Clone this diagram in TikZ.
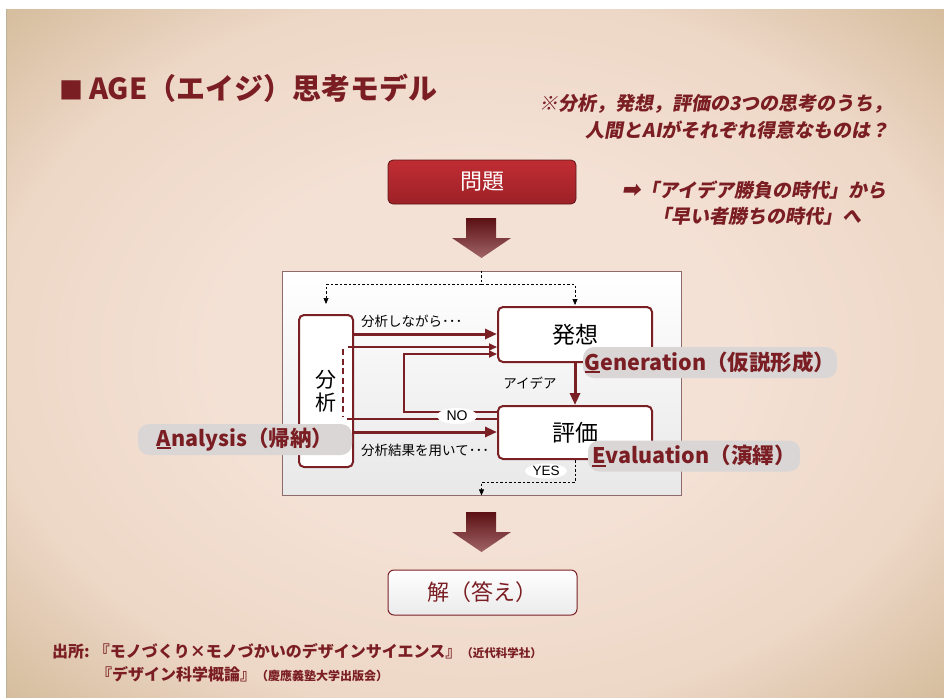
\documentclass[tikz,border=0pt]{standalone}
\usepackage{fontspec}
\setmainfont{Noto Sans CJK JP}
\newfontfamily\jp{Noto Sans CJK JP}
\newfontfamily\jpit{Noto Sans CJK JP}[FakeSlant=0.18]
\newfontfamily\arial{Liberation Sans}
\newfontfamily\dejait{DejaVu Sans}[FakeSlant=0.18]
\usetikzlibrary{arrows.meta,calc,shapes.geometric}
\newcommand{\myfs}[1]{\fontsize{#1pt}{#1pt}\selectfont}
\newcommand{\myul}[1]{{\setbox0\hbox{#1}\rlap{\rule[-2.6pt]{\wd0}{1.8pt}}\box0}}
\definecolor{dred}{HTML}{7A1E23}
\definecolor{lred}{HTML}{7A2025}
\definecolor{bgin}{HTML}{F4E1D5}
\definecolor{bgmid}{HTML}{EDD7C6}
\definecolor{bgout}{HTML}{D4BB9B}
\definecolor{pillgray}{HTML}{DAD6D6}
\definecolor{probtop}{HTML}{C02D33}
\definecolor{probbot}{HTML}{9C2127}
\definecolor{probbd}{HTML}{5C1518}
\definecolor{arrtop}{HTML}{5C1013}
\definecolor{arrbot}{HTML}{A06468}
\definecolor{panelbd}{HTML}{8E6A6A}
\definecolor{edgeln}{HTML}{B8B49A}
\pgfdeclareradialshading{bgshade}{\pgfpoint{0bp}{0bp}}{color(0bp)=(bgin); color(14bp)=(bgin); color(26bp)=(bgmid); color(36bp)=(bgout); color(50bp)=(bgout)}
\begin{document}
\begin{tikzpicture}[x=1pt,y=-1pt,
  every node/.style={inner sep=0pt},
  box/.style={draw=lred, line width=2pt, rounded corners=5pt, fill=white, font=\jp\myfs{23}},
  probbox/.style={draw=probbd, line width=0.8pt, rounded corners=5pt, top color=probtop, bottom color=probbot, text=white, font=\jp\myfs{22}, minimum width=188pt, minimum height=44pt},
  ansbox/.style={draw=lred, line width=1pt, rounded corners=6pt, top color=white, bottom color=black!8, text=dred, font=\jp\myfs{22}, minimum width=189pt, minimum height=45pt},
  panelbox/.style={draw=panelbd, line width=0.8pt, top color=white, bottom color=black!9, minimum width=399pt, minimum height=224pt},
  arr/.style={draw=lred, line width=3pt, -{Triangle[length=12pt,width=10pt]}},
  thinln/.style={draw=lred, line width=1.8pt},
  thinarr/.style={thinln, -{Triangle[length=8pt,width=7pt]}},
  dsh/.style={draw=black, line width=0.7pt, dash pattern=on 2.5pt off 2pt},
  dsharr/.style={dsh, -{Triangle[length=6pt,width=5pt]}},
  lbl/.style={font=\jp\myfs{13.5}},
  pill/.style={fill=pillgray, rounded corners=11pt, minimum height=31pt, text=dred, font=\jp\bfseries\myfs{21.5}},
  pinkyes/.style={ellipse, fill=white, inner sep=0pt, font=\arial\myfs{14}},
  bigarr/.style={top color=arrtop, bottom color=arrbot, draw=none},
  redtxt/.style={text=dred, font=\jpit\bfseries\myfs{19}}
]
\useasboundingbox (0,0) rectangle (944,697);
\fill[white] (0,0) rectangle (944,697);
\shade[shading=bgshade] (6,9) rectangle (944,697);
\draw[color=edgeln, line width=1pt] (6.5,9) -- (6.5,697);

% title
\node[anchor=west, text=dred, font=\jp\bfseries\myfs{29}] (title) at (59,88) {{\myfs{24}■}\hspace{6pt}AGE（エイジ）思考モデル};

% top right remarks
\node[redtxt, anchor=east] (q1) at (893,104) {※分析，発想，評価の3つの思考のうち，};
\node[redtxt, anchor=east] (q2) at (890,130) {人間とAIがそれぞれ得意なものは？};
\node[redtxt, anchor=east] (t1) at (887,190) {{\dejait\myfs{23}➡}「アイデア勝負の時代」から};
\node[redtxt] (t2) at (757,216) {「早い者勝ちの時代」へ};

% problem box
\node[probbox] (pro) at (482,182) {問題};

% big arrow 1
\shade[bigarr] (466,218) -- (496,218) -- (496,238) -- (511,238) -- (481.5,258) -- (452,238) -- (466,238) -- cycle;

% panel
\node[panelbox] (panel) at (481.5,383) {};

% boxes
\node[box, minimum width=54pt, minimum height=152pt, align=center, font=\jp\myfs{21}] (ana) at (326,391) {分\\[2.5pt]析};
\node[box, minimum width=154pt, minimum height=55pt] (gen) at (575,334.5) {発想};
\node[box, minimum width=154pt, minimum height=53pt] (eva) at (575,432.5) {評価};

% dashed top connectors
\draw[dsh] (panel.north) -- ++(0,14) coordinate (tj);
\draw[dsharr, shorten >=10pt] (tj) -| (ana.north);
\draw[dsharr, shorten >=1pt] (tj) -| (gen.north);

% red connectors
\coordinate (s1) at (348,347);
\coordinate (s2) at (347,419);
\coordinate (dtop) at (343,349);
\coordinate (dbot) at (343,417);
\coordinate (loopx) at (404,412);
\draw[arr] (ana.east |- 0,334) -- (gen.west |- 0,334);
\draw[thinarr] (s1) -- (gen.west |- s1);
\draw[thinln] (s2) -- (eva.west |- s2);
\draw[thinln, dash pattern=on 6pt off 3.5pt] (dtop) -- (dbot);
\draw[thinarr] (eva.west |- loopx) -- (loopx) -- (loopx |- 0,354) -- (gen.west |- 0,354);
\draw[arr] (ana.east |- 0,432) -- (eva.west |- 0,432);
\draw[arr] (gen.south) -- (eva.north);

% YES dashed
\draw[dsharr] (eva.south) -- (eva.south |- 0,482) -| (panel.south);

% labels
\node[lbl, anchor=west] (l1) at (361,321) {分析しながら･･･};
\node[lbl, anchor=west] (l2) at (361,450) {分析結果を用いて･･･};
\node[lbl] (l3) at (530,383) {アイデア};
\node[pinkyes, minimum width=40pt, minimum height=16pt] (no) at (457,416) {NO};
\node[pinkyes, minimum width=42pt, minimum height=15pt, font=\arial\myfs{13.5}] (yes) at (546,471) {YES};

% pills
\node[pill, minimum width=214pt] (pa) at (245,439.5) {\myul{A}nalysis（帰納）};
\node[pill, minimum width=254pt] (pg) at (710,362.5) {\myul{G}eneration（仮説形成）};
\node[pill, minimum width=212pt] (pe) at (694,456) {\myul{E}valuation（演繹）};

% big arrow 2
\shade[bigarr] (466,512) -- (496,512) -- (496,532) -- (511,532) -- (481.5,552) -- (452,532) -- (466,532) -- cycle;

% answer box
\node[ansbox] (ans) at (482.5,592.5) {解（答え）};

% sources
\node[anchor=west, text=dred, font=\jp\bfseries\myfs{16}] (src1) at (52,651) {出所:\hspace{4pt}『モノづくり×モノづかいのデザインサイエンス』{\myfs{11.5}（近代科学社）}};
\node[anchor=west, text=dred, font=\jp\bfseries\myfs{16}] (src2) at (96,674) {『デザイン科学概論』{\myfs{12}（慶應義塾大学出版会）}};
\end{tikzpicture}
\end{document}
